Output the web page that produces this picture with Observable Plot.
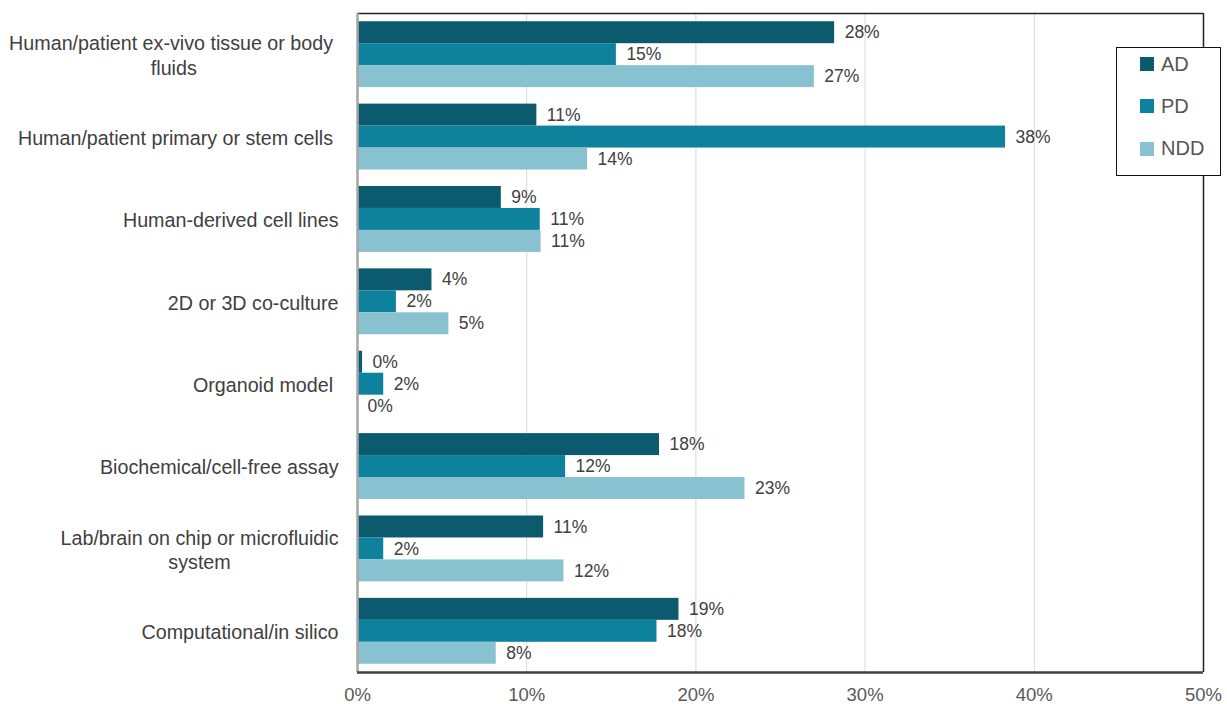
<!DOCTYPE html>
<html>
<head>
<meta charset="utf-8">
<script src="https://cdn.jsdelivr.net/npm/d3@7"></script>
<script src="https://cdn.jsdelivr.net/npm/@observablehq/plot@0.6"></script>
<style>
  html, body { margin: 0; padding: 0; background: #fff; }
  #wrap { position: relative; width: 1227px; height: 704px; }
  #legend {
    position: absolute; left: 1116px; top: 47px; width: 103px; height: 127px;
    background: #fff; border: 1.5px solid #111; box-sizing: content-box;
    font-family: "Liberation Sans", Arial, sans-serif; font-size: 20px; color: #555;
  }
  .item { position: absolute; left: 23px; display: flex; align-items: center; height: 20px; }
  .sw { width: 14px; height: 14px; margin-right: 7px; }
</style>
</head>
<body>
<div id="wrap"><div id="chart"></div><div id="legend"></div></div>
<script>
const categories = [
  "Human/patient ex-vivo tissue or body\u00a0\nfluids",
  "Human/patient primary or stem cells\u00a0",
  "Human-derived cell lines",
  "2D or 3D co-culture",
  "Organoid model\u00a0",
  "Biochemical/cell-free assay",
  "Lab/brain on chip or microfluidic\nsystem",
  "Computational/in silico"
];
const series = ["AD", "PD", "NDD"];
const AD  = [28.2, 10.6, 8.5, 4.4, 0.3, 17.85, 11.0, 19.0];
const PD  = [15.3, 38.3, 10.8, 2.3, 1.55, 12.3, 1.55, 17.7];
const NDD = [27.0, 13.6, 10.85, 5.4, 0, 22.9, 12.2, 8.2];
const colors = ["#0b5a6e", "#0e819d", "#88c1cf"];
const xTicks = [0, 10, 20, 30, 40, 50];

const values = {AD, PD, NDD};
const groupPad = 0.1;                // fraction of each category band left empty above/below
const barH = (1 - 2 * groupPad) / series.length;
const rows = [];
categories.forEach((c, ci) => series.forEach((s, si) => {
  const y1 = ci + groupPad + si * barH;
  rows.push({category: c, series: s, value: values[s][ci], y1, y2: y1 + barH, ym: y1 + barH / 2});
}));

const FONT = "'Liberation Sans', Arial, sans-serif";

const plot = Plot.plot({
  width: 1227,
  height: 704,
  marginLeft: 357,
  marginRight: 24,
  marginTop: 13,
  marginBottom: 32,
  style: {fontFamily: FONT, background: "#fff"},
  x: {domain: [xTicks[0], xTicks[xTicks.length - 1]]},
  y: {domain: [0, categories.length], reverse: true},
  color: {domain: series, range: colors},
  marks: [
    Plot.ruleX(xTicks.slice(1, -1), {stroke: "#d9d9d9", strokeWidth: 1}),
    Plot.rectX(rows, {x: "value", y1: "y1", y2: "y2", fill: "series"}),
    Plot.ruleY([0], {stroke: "#222", strokeWidth: 1.5}),
    Plot.ruleX([xTicks[xTicks.length - 1]], {stroke: "#222", strokeWidth: 1.5}),
    Plot.ruleX([0], {stroke: "#a6a6a6", strokeWidth: 2.5}),
    Plot.ruleY([categories.length], {stroke: "#404040", strokeWidth: 2.5}),
    Plot.text(rows, {
      x: "value", y: "ym", text: d => Math.round(d.value) + "%",
      dx: 10, textAnchor: "start", fontSize: 17.5, fill: "#404040"
    }),
    Plot.axisX({
      ticks: xTicks, tickFormat: d => d + "%", tickSize: 0, tickPadding: 15,
      fontSize: 18.5, color: "#595959", label: null
    }),
    Plot.axisY({
      ticks: categories.map((_, i) => i + 0.5),
      tickFormat: d => categories[Math.floor(d)],
      tickSize: 0, tickPadding: 19, fontSize: 19.7, lineHeight: 1.25,
      color: "#404040", label: null
    })
  ]
});
document.getElementById("chart").appendChild(plot);

// center lines of multi-line category labels relative to each other
plot.querySelectorAll('g[aria-label="y-axis tick label"] text').forEach(t => {
  const spans = Array.from(t.querySelectorAll("tspan"));
  if (spans.length < 2) return;
  const w = spans.map(s => s.getComputedTextLength());
  const m = Math.max(...w);
  spans.forEach((s, i) => s.setAttribute("x", -(m - w[i]) / 2));
});

// legend
const lg = document.getElementById("legend");
series.forEach((s, i) => {
  const it = document.createElement("div");
  it.className = "item";
  it.style.top = (6 + i * 42.3) + "px";
  it.innerHTML = `<div class="sw" style="background:${colors[i]}"></div><span>${s}</span>`;
  lg.appendChild(it);
});
</script>
</body>
</html>
